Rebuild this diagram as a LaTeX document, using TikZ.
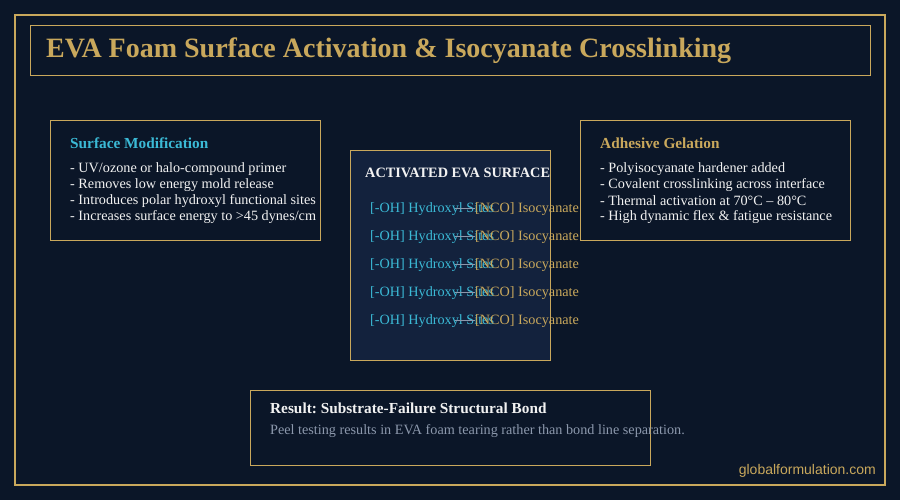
\documentclass[tikz,border=0pt]{standalone}
\usepackage{fontspec}
\setmainfont{Liberation Serif}
\setsansfont{Liberation Sans}
\frenchspacing
\definecolor{bgnavy}{HTML}{0B1628}
\definecolor{panelnavy}{HTML}{13223D}
\definecolor{gold}{HTML}{C9A85C}
\definecolor{cyanish}{HTML}{3BBAD6}
\definecolor{offwhite}{HTML}{F2F2F2}
\definecolor{muted}{HTML}{8C98AC}
\begin{document}
\begin{tikzpicture}[x=1pt,y=-1pt,
    box/.style={draw=gold,line width=0.9pt},
    head/.style={anchor=west,inner sep=0pt,font=\fontsize{15.3}{18}\selectfont\bfseries},
    item/.style={anchor=west,inner sep=0pt,font=\fontsize{14.2}{16}\selectfont,text=offwhite},
    site/.style={anchor=west,inner sep=0pt,font=\fontsize{14.2}{16}\selectfont}]
            % background
            \fill[bgnavy] (0, 0) rectangle (900, 500);
            \useasboundingbox (0, 0) rectangle (900, 500);
            \draw[gold, line width=1.8pt] (15, 15) rectangle (885, 485);

            % title
            \draw[box] (30, 25) rectangle (870, 75);
            \node[anchor=west, inner sep=0pt, text=gold, font=\fontsize{28}{32}\selectfont\bfseries] (title) at (46, 51) {EVA Foam Surface Activation \& Isocyanate Crosslinking};

            % surface modification
            \draw[box] (50, 120) rectangle (320, 240);
            \node[head, text=cyanish] (modhead) at (70, 143) {Surface Modification};
            \node[item] (mod1) at (70, 169) {- UV/ozone or halo-compound primer};
            \node[item] (mod2) at (70, 185) {- Removes low energy mold release};
            \node[item] (mod3) at (70, 201) {- Introduces polar hydroxyl functional sites};
            \node[item] (mod4) at (70, 217) {- Increases surface energy to >45 dynes/cm};

            % activated surface
            \draw[box, fill=panelnavy] (350, 150) rectangle (550, 360);
            \node[head, text=offwhite, font=\fontsize{14.3}{17}\selectfont\bfseries] (acthead) at (365, 173) {ACTIVATED EVA SURFACE};
            \foreach \i/\y in {1/209, 2/237, 3/265, 4/293, 5/321} {
                \node[site, text=cyanish] (oh\i) at (370, \y) {[-OH] Hydroxyl Sites};
                \node[site, text=gold] (nco\i) at (475, \y) {[NCO] Isocyanate};
                \draw[muted, line width=0.8pt] ([xshift=85, yshift=1]oh\i.west) -- ([yshift=1]nco\i.west);
            }

            % adhesive gelation
            \draw[box] (580, 120) rectangle (850, 240);
            \node[head, text=gold] (gelhead) at (600, 143) {Adhesive Gelation};
            \node[item] (gel1) at (600, 169) {- Polyisocyanate hardener added};
            \node[item] (gel2) at (600, 185) {- Covalent crosslinking across interface};
            \node[item] (gel3) at (600, 201) {- Thermal activation at 70°C – 80°C};
            \node[item] (gel4) at (600, 217) {- High dynamic flex \& fatigue resistance};

            % result
            \draw[box] (250, 390) rectangle (650, 465);
            \node[head, text=offwhite] (reshead) at (270, 408) {Result: Substrate-Failure Structural Bond};
            \node[item, text=muted] (restext) at (270, 431) {Peel testing results in EVA foam tearing rather than bond line separation.};

            % footer
            \node[anchor=east, inner sep=0pt, text=gold, font=\sffamily\fontsize{14}{16}\selectfont] (site) at (876, 471) {globalformulation.com};
\end{tikzpicture}
\end{document}
